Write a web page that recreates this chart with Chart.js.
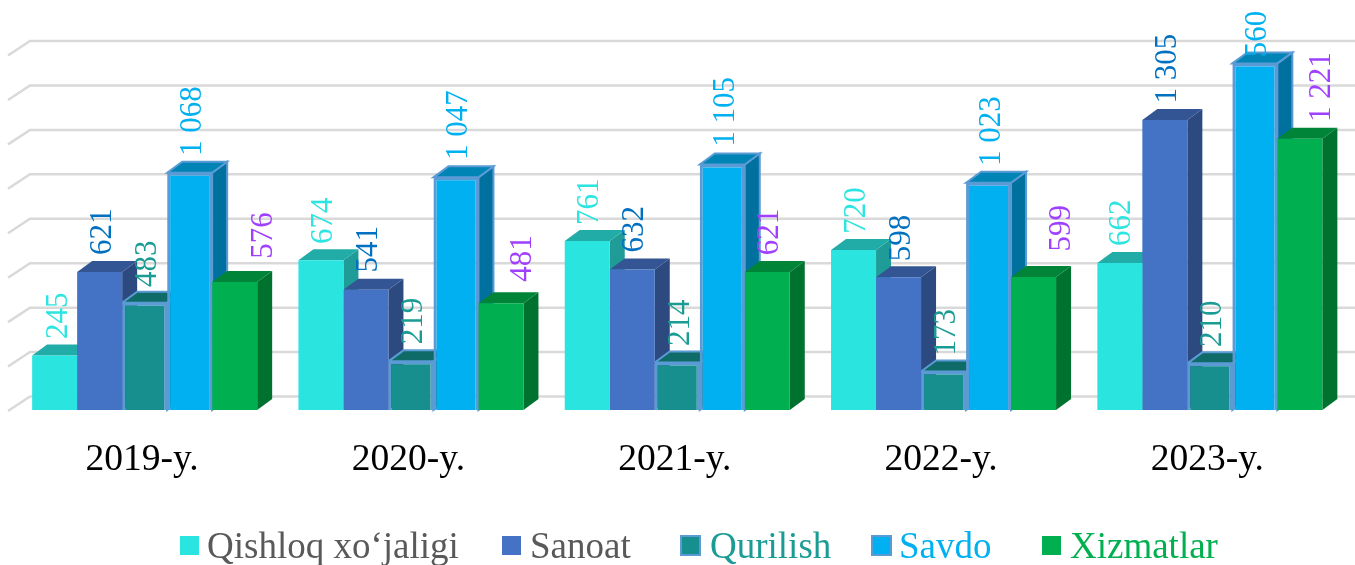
<!DOCTYPE html>
<html>
<head>
<meta charset="utf-8">
<title>Chart</title>
<script src="https://cdn.jsdelivr.net/npm/chart.js@4"></script>
<style>
  html, body { margin: 0; padding: 0; background: #fff; overflow: hidden; }
  canvas { display: block; }
</style>
</head>
<body>
<canvas id="myChart" width="1355" height="565"></canvas>
<script>
const categories = ['2019-y.', '2020-y.', '2021-y.', '2022-y.', '2023-y.'];
const seriesNames = ['Qishloq xo‘jaligi', 'Sanoat', 'Qurilish', 'Savdo', 'Xizmatlar'];

const qishloq = [245, 674, 761, 720, 662];
const sanoat = [621, 541, 632, 598, 1305];
const qurilish = [483, 219, 214, 173, 210];
const savdo = [1068, 1047, 1105, 1023, 1560];
const xizmatlar = [576, 481, 621, 599, 1221];

const seriesValues = [qishloq, sanoat, qurilish, savdo, xizmatlar];

const frontColors = ['#2ae4e0', '#4472c4', '#178f8f', '#00b0f0', '#00b050'];
const topColors = ['#22aca8', '#335593', '#0f6b68', '#0084b5', '#008438'];
const sideColors = ['#1f9c98', '#2c4a80', '#0c5c5a', '#00709f', '#00722f'];
const borderColors = [null, null, '#5b9bd5', '#5b9bd5', null];
const labelColors = ['#2ce4e0', '#0070c0', '#1a9c94', '#00b0f0', '#a040ff'];
const legendColors = ['#595959', '#595959', '#1a9c94', '#00b0f0', '#00b050'];

// hand placed labels in the original, offset from the bar centre / gap above its front top
const labelDx = [[1.5, 1, 0.5, 1, 0], [1, 1, 0.5, 1, 0.5], [1, 1, 1, 1, 0.5], [1, 1, 1, 1, 1], [26.5, 19.5, 0.5, 25.5, 19.3]];
const labelGap = [[16.6, 16.3, 16, 16.3, 17], [17, 17.3, 17, 16, 16.6], [15.7, 17, 16.4, 16, 16.3], [16.7, 17.4, 17.8, 16.7, -17], [23.3, 21.3, 16.7, 25.3, 16.7]];
const legendBoxX = [180, 502, 681, 872, 1042];
const legendTextX = [207, 530, 710, 899, 1070];

const SERIF = '"Liberation Serif", "Times New Roman", serif';
const BAR_DX = 15, BAR_DY = -11;
const GRID_DX = 22, GRID_DY = -13.5;

function formatValue(v) {
  return String(v).replace(/\B(?=(\d{3})+$)/g, ' ');
}

function poly(ctx, pts, fill, stroke) {
  ctx.beginPath();
  pts.forEach((p, i) => i ? ctx.lineTo(p[0], p[1]) : ctx.moveTo(p[0], p[1]));
  ctx.closePath();
  ctx.fillStyle = fill;
  ctx.fill();
  if (stroke) {
    ctx.lineWidth = 2;
    ctx.strokeStyle = stroke;
    ctx.stroke();
  }
}

const walls = {
  id: 'walls',
  beforeDatasetsDraw(chart) {
    const { ctx, chartArea, scales } = chart;
    ctx.save();
    ctx.strokeStyle = '#d9d9d9';
    ctx.lineWidth = 2.5;
    scales.y.ticks.forEach(t => {
      const y = scales.y.getPixelForValue(t.value);
      ctx.beginPath();
      ctx.moveTo(chartArea.left - 3.5, y + 1);
      ctx.lineTo(chartArea.left + GRID_DX - 3.5, y + GRID_DY);
      ctx.lineTo(1355, y + GRID_DY);
      ctx.stroke();
    });
    // depth faces go left to right so each bar covers the side of the one before
    for (let j = 0; j < categories.length; j++) {
      seriesValues.forEach((_, i) => {
        const bar = chart.getDatasetMeta(i).data[j];
        const l = bar.x - bar.width / 2, r = bar.x + bar.width / 2;
        poly(ctx, [[r, bar.y], [r + BAR_DX, bar.y + BAR_DY], [r + BAR_DX, bar.base + BAR_DY], [r, bar.base]], sideColors[i], borderColors[i]);
        poly(ctx, [[l, bar.y], [l + BAR_DX, bar.y + BAR_DY], [r + BAR_DX, bar.y + BAR_DY], [r, bar.y]], topColors[i], borderColors[i]);
      });
    }
    ctx.restore();
  }
};

const valueLabels = {
  id: 'valueLabels',
  afterDatasetsDraw(chart) {
    const { ctx } = chart;
    seriesValues.forEach((values, i) => {
      values.forEach((v, j) => {
        const bar = chart.getDatasetMeta(i).data[j];
        ctx.save();
        // anything lower than the bar's front top is hidden by the bar
        ctx.beginPath();
        ctx.rect(0, 0, 1355, bar.y);
        ctx.clip();
        // alphabetic baseline, 10.5 puts the digits' middle on the centre line
        ctx.translate(bar.x + labelDx[i][j] + 10.5, bar.y - labelGap[i][j]);
        ctx.rotate(-Math.PI / 2);
        ctx.font = '31px ' + SERIF;
        ctx.fillStyle = labelColors[i];
        ctx.textAlign = 'left';
        ctx.textBaseline = 'alphabetic';
        ctx.fillText(formatValue(v), 0, 0);
        ctx.restore();
      });
    });
  }
};

const bottomLegend = {
  id: 'bottomLegend',
  afterDraw(chart) {
    const { ctx } = chart;
    ctx.save();
    ctx.font = '37px ' + SERIF;
    ctx.textAlign = 'left';
    ctx.textBaseline = 'alphabetic';
    seriesNames.forEach((name, i) => {
      ctx.fillStyle = frontColors[i];
      ctx.fillRect(legendBoxX[i], 536, 19, 19);
      if (borderColors[i]) {
        ctx.strokeStyle = borderColors[i];
        ctx.lineWidth = 2;
        ctx.strokeRect(legendBoxX[i], 536, 19, 19);
      }
      ctx.fillStyle = legendColors[i];
      ctx.fillText(name, legendTextX[i], 558);
    });
    ctx.restore();
  }
};

new Chart(document.getElementById('myChart'), {
  type: 'bar',
  data: {
    labels: categories,
    datasets: seriesNames.map((name, i) => ({
      label: name,
      data: seriesValues[i],
      backgroundColor: frontColors[i],
      borderColor: borderColors[i] || frontColors[i],
      borderWidth: borderColors[i] ? 3 : 0,
      categoryPercentage: 0.845,
      barPercentage: 1
    }))
  },
  options: {
    responsive: false,
    animation: false,
    layout: { padding: { left: 11.5, right: 12, top: 54.5, bottom: 0 } },
    plugins: {
      legend: { display: false },
      title: { display: false },
      tooltip: { enabled: false }
    },
    scales: {
      x: {
        grid: { display: false },
        border: { display: false },
        ticks: { color: '#000', font: { family: SERIF, size: 37.5 }, padding: 20, labelOffset: -2.5, maxRotation: 0 },
        afterFit(scale) { scale.height = 155; }
      },
      y: {
        display: false,
        min: 0,
        max: 1600,
        ticks: { stepSize: 200 }
      }
    }
  },
  plugins: [walls, valueLabels, bottomLegend]
});
</script>
</body>
</html>
